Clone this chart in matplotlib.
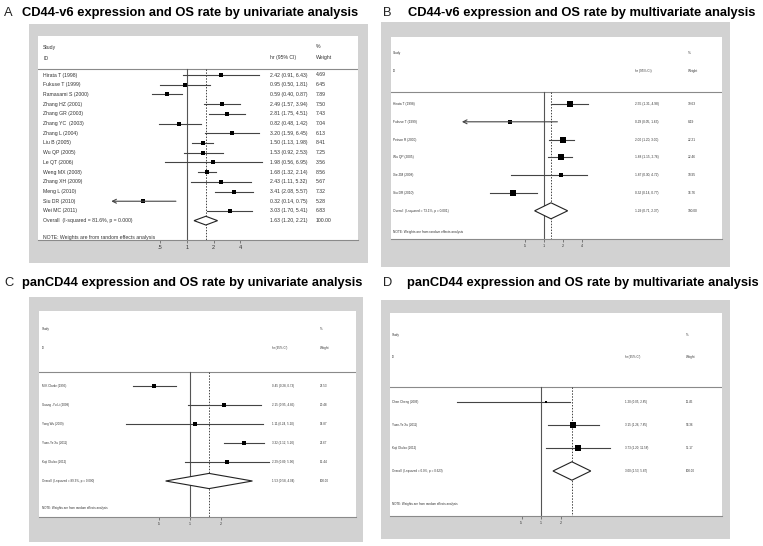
import matplotlib
matplotlib.use('Agg')
import matplotlib.pyplot as plt
import numpy as np

plt.rcParams['font.family'] = ['Liberation Sans', 'DejaVu Sans']

W, H = 763, 546

# ---- data ----
# A: CD44-v6, univariate
a_study = ['Hirata T (1998)', 'Fukuse T (1999)', 'Ramasami S (2000)', 'Zhang HZ (2001)',
           'Zhang GR (2003)', 'Zhang YC  (2003)', 'Zhang L (2004)', 'Liu B (2005)',
           'Wu QP (2005)', 'Le QT (2006)', 'Weng MX (2008)', 'Zhang XH (2009)',
           'Meng L (2010)', 'Siu DR (2010)', 'Wei MC (2011)']
a_hr = [2.42, 0.95, 0.59, 2.49, 2.81, 0.82, 3.20, 1.50, 1.53, 1.98, 1.68, 2.43, 3.41, 0.32, 3.03]
a_lo = [0.91, 0.50, 0.40, 1.57, 1.75, 0.48, 1.59, 1.13, 0.92, 0.56, 1.32, 1.11, 2.08, 0.14, 1.70]
a_hi = [6.43, 1.81, 0.87, 3.94, 4.51, 1.42, 6.45, 1.98, 2.53, 6.95, 2.14, 5.32, 5.57, 0.75, 5.41]
a_wt = [4.69, 6.45, 7.89, 7.50, 7.43, 7.04, 6.13, 8.41, 7.25, 3.56, 8.56, 5.67, 7.32, 5.28, 6.83]
a_arrow = [False] * 13 + [True, False]
a_overall = ['Overall  (I-squared = 81.6%, p = 0.000)', 1.63, 1.20, 2.21]

# B: CD44-v6, multivariate
b_study = ['Hirata T (1998)', 'Fukuse T (1999)', 'Peinon R (2000)', 'Wu QP (2005)',
           'Xie ZM (2008)', 'Siu DR (2010)']
b_hr = [2.55, 0.29, 2.00, 1.88, 1.87, 0.32]
b_lo = [1.31, 0.05, 1.20, 1.15, 0.30, 0.14]
b_hi = [4.98, 1.63, 3.00, 2.76, 4.72, 0.77]
b_wt = [19.63, 8.19, 22.21, 22.46, 10.95, 16.76]
b_arrow = [False, True, False, False, False, False]
b_overall = ['Overall  (I-squared = 73.1%, p = 0.001)', 1.29, 0.71, 2.37]

# C: panCD44, univariate
c_study = ['M K Clarke (1995)', 'Guang -Yu Li (2008)', 'Yong Wu (2009)',
           'Yuan-Ye Xu (2011)', 'Koji Okubo (2012)']
c_hr = [0.45, 2.15, 1.11, 3.32, 2.29]
c_lo = [0.28, 0.95, 0.24, 2.12, 0.89]
c_hi = [0.73, 4.85, 5.10, 5.20, 5.90]
c_wt = [23.53, 20.48, 14.87, 22.67, 15.44]
c_arrow = [False] * 5
c_overall = ['Overall  (I-squared = 89.3%, p = 0.000)', 1.53, 0.58, 4.04]

# D: panCD44, multivariate
d_study = ['Chen Cheng (2006)', 'Yuan-Ye Xu (2011)', 'Koji Okubo (2012)']
d_hr = [1.20, 3.15, 3.73]
d_lo = [0.05, 1.26, 1.20]
d_hi = [2.85, 7.85, 11.58]
d_wt = [11.45, 53.36, 35.17]
d_arrow = [False, False, False]
d_overall = ['Overall  (I-squared = 0.0%, p = 0.623)', 3.00, 1.53, 5.87]

titles = ['CD44-v6 expression and OS rate by univariate analysis',
          'CD44-v6 expression and OS rate by multivariate analysis',
          'panCD44 expression and OS rate by univariate analysis',
          'panCD44 expression and OS rate by multivariate analysis']
letters = ['A', 'B', 'C', 'D']

fig = plt.figure(figsize=(W / 100, H / 100), dpi=100)
fig.patch.set_facecolor('white')


def px_axes(x0, y0, x1, y1):
    return fig.add_axes([x0 / W, 1 - y1 / H, (x1 - x0) / W, (y1 - y0) / H])


def forest(study, hr, lo, hi, wt, arrow, overall, ticks, tlabels,
           box, inner, x1px, ppd, y0px, dy, colx, heady, notey, fs, sq, dh):
    gb = px_axes(*box)
    gb.set_facecolor('#d2d2d2')
    gb.set_xticks([]); gb.set_yticks([])
    for s in gb.spines.values():
        s.set_visible(False)

    ax = px_axes(*inner)
    ax.set_facecolor('white')
    ax.set_xscale('log', base=2)
    ax.set_xlim(2 ** ((inner[0] - x1px) / ppd), 2 ** ((inner[2] - x1px) / ppd))
    row = lambda ypx: (ypx - y0px) / dy
    ax.set_ylim(row(inner[3]), row(inner[1]))
    for k in ['top', 'left', 'right']:
        ax.spines[k].set_visible(False)
    ax.spines['bottom'].set_color('#8a8a8a')
    ax.spines['bottom'].set_linewidth(0.8)
    ax.set_yticks([])
    ax.set_xticks(ticks)
    ax.set_xticklabels(tlabels)
    ax.xaxis.set_minor_locator(matplotlib.ticker.NullLocator())
    ax.tick_params(axis='x', length=2.5, width=0.5, color='#555555',
                   labelsize=fs + 0.4, pad=1, labelcolor='#333333')

    tr = ax.get_yaxis_transform()  # x in axes, y in data
    fx = lambda xpx: (xpx - inner[0]) / (inner[2] - inner[0])
    tc = '#333333'
    hl = row(heady[2])
    ax.text(fx(colx[0]), row(heady[0]), 'Study', transform=tr, fontsize=fs, color=tc, va='center')
    ax.text(fx(colx[0]), row(heady[1]), 'ID', transform=tr, fontsize=fs, color=tc, va='center')
    ax.text(fx(colx[1]), row(heady[1]), 'hr (95% CI)', transform=tr, fontsize=fs, color=tc, va='center')
    ax.text(fx(colx[2]), row(heady[0]), '%', transform=tr, fontsize=fs, color=tc, va='center')
    ax.text(fx(colx[2]), row(heady[1]), 'Weight', transform=tr, fontsize=fs, color=tc, va='center')
    ax.axhline(hl, color='#8a8a8a', lw=0.8)

    n = len(study)
    ax.plot([1, 1], [hl, row(inner[3])], color='#555555', lw=0.8)
    ax.plot([overall[1], overall[1]], [hl, row(inner[3])], color='#444444', lw=0.7,
            ls=(0, (1.5, 1.5)))

    for i in range(n):
        if arrow[i]:
            ax.annotate('', xy=(lo[i], i), xytext=(hi[i], i),
                        arrowprops=dict(arrowstyle='->', color='#444444', lw=0.8,
                                        shrinkA=0, shrinkB=0, mutation_scale=7))
        else:
            ax.plot([lo[i], hi[i]], [i, i], color='#444444', lw=0.8)
        ax.plot(hr[i], i, marker='s', color='black', ms=sq * np.sqrt(wt[i]), mew=0)
        ax.text(fx(colx[0]), i, study[i], transform=tr, fontsize=fs, color=tc, va='center')
        ax.text(fx(colx[1]), i, '%.2f (%.2f, %.2f)' % (hr[i], lo[i], hi[i]),
                transform=tr, fontsize=fs, color=tc, va='center')
        ax.text(fx(colx[2]), i, '%.2f' % wt[i], transform=tr, fontsize=fs, color=tc, va='center')

    lab, est, l, h = overall
    ax.fill([l, est, h, est, l], [n, n - dh, n, n + dh, n], facecolor='white',
            edgecolor='#222222', lw=0.8, zorder=3)
    ax.text(fx(colx[0]), n, lab, transform=tr, fontsize=fs, color=tc, va='center')
    ax.text(fx(colx[1]), n, '%.2f (%.2f, %.2f)' % (est, l, h), transform=tr,
            fontsize=fs, color=tc, va='center')
    ax.text(fx(colx[2]), n, '100.00', transform=tr, fontsize=fs, color=tc, va='center')
    ax.text(fx(colx[0]), row(notey), 'NOTE: Weights are from random effects analysis',
            transform=tr, fontsize=fs, color=tc, va='center')


forest(a_study, a_hr, a_lo, a_hi, a_wt, a_arrow, a_overall, [0.5, 1, 2, 4], ['.5', '1', '2', '4'],
       (29, 24, 368, 263), (38, 36, 358, 240), 187, 26.7, 75, 9.71,
       (43, 270, 316), (47, 58, 69), 237, 3.7, 1.2, 0.45)
forest(b_study, b_hr, b_lo, b_hi, b_wt, b_arrow, b_overall, [0.5, 1, 2, 4], ['.5', '1', '2', '4'],
       (381, 22, 730, 267), (391, 37, 722, 239), 544, 19, 104, 17.8,
       (393, 635, 688), (53, 71, 92), 232, 2.3, 0.95, 0.45)
forest(c_study, c_hr, c_lo, c_hi, c_wt, c_arrow, c_overall, [0.5, 1, 2], ['.5', '1', '2'],
       (29, 297, 363, 542), (39, 311, 356, 517), 190, 31, 386, 19,
       (42, 272, 320), (329, 348, 372), 508, 2.2, 0.65, 0.4)
forest(d_study, d_hr, d_lo, d_hi, d_wt, d_arrow, d_overall, [0.5, 1, 2], ['.5', '1', '2'],
       (381, 300, 730, 539), (390, 313, 722, 516), 541, 19.5, 402, 23,
       (392, 625, 686), (335, 357, 387), 504, 2.2, 0.62, 0.4)

# panel titles
for (lx, tx, by), let, t in zip([(4, 22, 16), (383, 408, 16), (4, 22, 286), (383, 407, 286)],
                               letters, titles):
    fig.text(lx / W, 1 - by / H, let, fontsize=9.3, va='baseline', color='#222222')
    fig.text(tx / W, 1 - by / H, t, fontsize=9.3, fontweight='bold', va='baseline', color='black')

fig.savefig('out.png', dpi=100)
